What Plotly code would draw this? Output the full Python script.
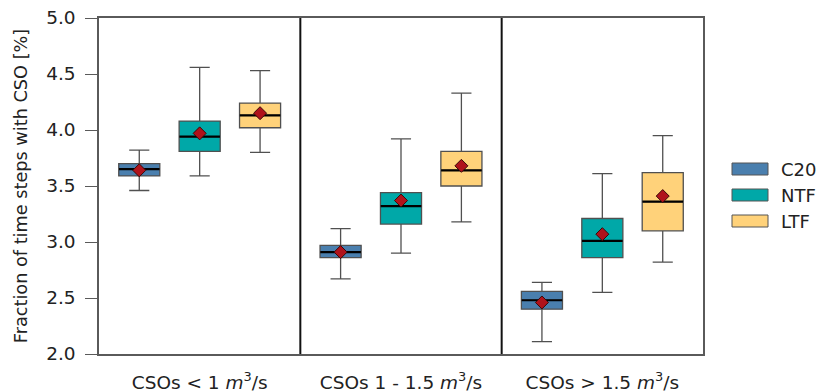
import plotly.graph_objects as go

# ---------------- data ----------------
categories = [
    "CSOs &lt; 1 <i>m</i><sup>3</sup>/s",
    "CSOs 1 - 1.5 <i>m</i><sup>3</sup>/s",
    "CSOs &gt; 1.5 <i>m</i><sup>3</sup>/s",
]
series = ["C20", "NTF", "LTF"]

c20_lower = [3.46, 2.67, 2.11]
c20_q1 = [3.59, 2.86, 2.40]
c20_median = [3.65, 2.91, 2.48]
c20_q3 = [3.70, 2.97, 2.56]
c20_upper = [3.82, 3.12, 2.64]
c20_mean = [3.64, 2.91, 2.46]

ntf_lower = [3.59, 2.90, 2.55]
ntf_q1 = [3.81, 3.16, 2.86]
ntf_median = [3.94, 3.32, 3.01]
ntf_q3 = [4.08, 3.44, 3.21]
ntf_upper = [4.56, 3.92, 3.61]
ntf_mean = [3.97, 3.37, 3.07]

ltf_lower = [3.80, 3.18, 2.82]
ltf_q1 = [4.02, 3.50, 3.10]
ltf_median = [4.13, 3.64, 3.36]
ltf_q3 = [4.24, 3.81, 3.62]
ltf_upper = [4.53, 4.33, 3.95]
ltf_mean = [4.15, 3.68, 3.41]

stats = {
    "C20": (c20_lower, c20_q1, c20_median, c20_q3, c20_upper, c20_mean),
    "NTF": (ntf_lower, ntf_q1, ntf_median, ntf_q3, ntf_upper, ntf_mean),
    "LTF": (ltf_lower, ltf_q1, ltf_median, ltf_q3, ltf_upper, ltf_mean),
}

# ---------------- style ----------------
colors = {"C20": "#4a7fae", "NTF": "#00a8a8", "LTF": "#ffd27a"}
SPACING = 0.3
BOX_W = 0.204
FONT = "DejaVu Sans"
FS = 18.5
FRAME = "#5a5a5a"
W, H = 816, 392

fig = go.Figure()

for j, name in enumerate(series):
    lo, q1, med, q3, up, mn = stats[name]
    pos = [i + (j - 1) * SPACING for i in range(len(categories))]
    fig.add_trace(go.Box(
        x=pos, lowerfence=lo, q1=q1, median=med, q3=q3, upperfence=up,
        width=BOX_W, fillcolor=colors[name],
        line=dict(color="#505050", width=1.3),
        whiskerwidth=0.49, boxpoints=False, showlegend=False, name=name,
    ))
    fig.add_trace(go.Scatter(
        x=pos, y=med, mode="markers", showlegend=False, hoverinfo="skip",
        marker=dict(symbol="line-ew", size=29, color="black",
                    line=dict(color="black", width=2.2)),
    ))
    fig.add_trace(go.Scatter(
        x=pos, y=mn, mode="markers", showlegend=False, name=name + " mean",
        marker=dict(symbol="diamond", size=10, color="#b0121b",
                    line=dict(color="#3a0808", width=1)),
    ))

shapes = []
for k in range(1, len(categories)):
    shapes.append(dict(type="line", xref="x", yref="y domain",
                       x0=k - 0.5, x1=k - 0.5, y0=0, y1=1,
                       line=dict(color="#111111", width=2)))

# manual legend (wide rectangles); pixel positions on the screen
annotations = []
plot_l, plot_r, plot_t, plot_b = 99, 703, 18, 354
pw, ph = plot_r - plot_l, plot_b - plot_t
for j, name in enumerate(series):
    cy = 169 + j * 26
    shapes.append(dict(type="rect", xref="paper", yref="paper",
                       x0=(732 - plot_l) / pw, x1=(768 - plot_l) / pw,
                       y0=(plot_b - cy - 6) / ph, y1=(plot_b - cy + 6) / ph,
                       fillcolor=colors[name], line=dict(color="#555555", width=1)))
    annotations.append(dict(xref="paper", yref="paper", x=(779 - plot_l) / pw,
                            y=(plot_b - cy) / ph, text=name, showarrow=False,
                            xanchor="left", yanchor="middle",
                            font=dict(family=FONT, size=18, color="#222")))

fig.update_layout(
    width=W, height=H,
    margin=dict(l=plot_l, r=W - plot_r, t=plot_t, b=H - plot_b),
    paper_bgcolor="white", plot_bgcolor="white",
    font=dict(family=FONT, size=FS, color="#222"),
    shapes=shapes, annotations=annotations, showlegend=False,
    boxmode="overlay",
)
fig.update_xaxes(
    range=[-0.5, len(categories) - 0.5],
    tickvals=list(range(len(categories))), ticktext=categories,
    ticks="", showgrid=False, zeroline=False, automargin=False,
    showline=True, mirror=True, linecolor=FRAME, linewidth=1.5,
    ticklabelstandoff=11, tickfont=dict(size=FS), ticklabeloverflow="allow",
)
fig.update_yaxes(
    range=[2, 5], dtick=0.5, tickformat=".1f", automargin=False,
    ticks="outside", ticklen=12, tickcolor=FRAME, tickwidth=1,
    showgrid=False, zeroline=False,
    showline=True, mirror=True, linecolor=FRAME, linewidth=1.5,
    ticklabelstandoff=6, tickfont=dict(size=FS), ticklabeloverflow="allow",
    title=dict(text="Fraction of time steps with CSO [%]", standoff=14,
               font=dict(size=17.7)),
)

fig.write_html(
    "out.html",
    config={"displayModeBar": False},
    post_script="document.body.style.margin='0';document.body.style.overflow='hidden';",
)
